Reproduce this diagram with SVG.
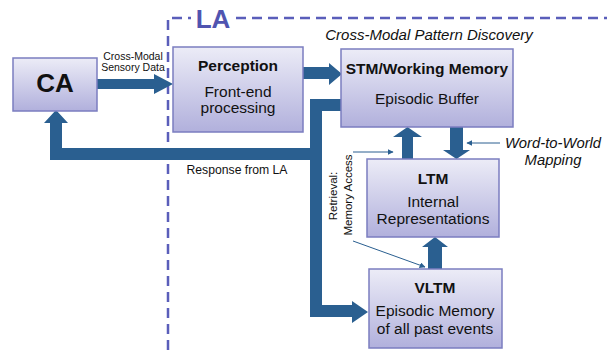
<svg xmlns="http://www.w3.org/2000/svg" width="607" height="354" viewBox="0 0 607 354">
<defs>
<linearGradient id="g" x1="0" y1="0" x2="0" y2="1">
<stop offset="0" stop-color="#ececf7"/>
<stop offset="1" stop-color="#b1b0dc"/>
</linearGradient>
<marker id="th" viewBox="0 0 10 10" refX="9" refY="5" markerWidth="6" markerHeight="6" markerUnits="userSpaceOnUse" orient="auto"><path d="M0,0 L10,5 L0,10 z" fill="#2a5f90"/></marker>
</defs>
<style>
.box{fill:url(#g);stroke:#7b7dc0;stroke-width:1.5}
.t{font-family:"Liberation Sans",Arial,sans-serif;fill:#111;text-anchor:middle}
.b{font-weight:bold}
.big{font-size:15.5px}
.arr{fill:#2a5f90}
.thin{stroke:#2a5f90;stroke-width:1;fill:none}
</style>
<rect width="607" height="354" fill="#fff"/>
<g id="la-boundary">
<path d="M168,350 L168,18 L607,18" fill="none" stroke="#5a5eba" stroke-width="2.5" stroke-dasharray="10 6"/>
<rect x="191" y="6" width="44" height="26" fill="#fff"/>
<text x="213" y="28" font-family="Liberation Sans,Arial,sans-serif" font-weight="bold" font-size="26" fill="#5054b0" text-anchor="middle">LA</text>
</g>
<g id="connectors">
<path class="arr" d="M97,79 L154,79 L154,74 L173,84 L154,94 L154,89 L97,89 z"/>
<path class="arr" d="M303,67 L329,67 L329,63 L342,74 L329,85 L329,79 L303,79 z"/>
<path class="arr" d="M341,99 L310,99 L310,148 L62,148 L62,123 L68,123 L56,110 L44,123 L50,123 L50,160 L310,160 L310,317 L352,317 L352,323 L368,312 L352,301 L352,305 L322,305 L322,111 L341,111 z"/>
<path class="arr" d="M402,159 L402,137 L393,137 L407.5,127 L422,137 L413,137 L413,159 z"/>
<path class="arr" d="M450,127 L463,127 L463,150 L470,150 L456.5,159 L443,150 L450,150 z"/>
<path class="arr" d="M428,269 L428,247 L422,247 L435,237 L448,247 L442,247 L442,269 z"/>
<line class="thin" x1="500" y1="143" x2="467" y2="143" marker-end="url(#th)"/>
<line class="thin" x1="353" y1="152" x2="393" y2="152" marker-end="url(#th)"/>
<line class="thin" x1="353" y1="241" x2="425" y2="267" marker-end="url(#th)"/>
</g>
<g id="CA">
<rect class="box" x="13" y="58" width="84" height="53"/>
<text class="t b" x="55" y="92" font-size="26">CA</text>
</g>
<g id="Perception">
<rect class="box" x="173" y="47" width="130" height="85"/>
<text class="t b big" x="238" y="71">Perception</text>
<text class="t big" x="238" y="97">Front-end</text>
<text class="t big" x="238" y="113">processing</text>
</g>
<g id="STM">
<rect class="box" x="341" y="49" width="172" height="78"/>
<text class="t b big" x="427" y="74">STM/Working Memory</text>
<text class="t big" x="427" y="104">Episodic Buffer</text>
</g>
<g id="LTM">
<rect class="box" x="367" y="159" width="132" height="78"/>
<text class="t b big" x="433" y="184">LTM</text>
<text class="t big" x="433" y="207">Internal</text>
<text class="t big" x="433" y="224">Representations</text>
</g>
<g id="VLTM">
<rect class="box" x="369" y="269" width="133" height="79"/>
<text class="t b big" x="435" y="293">VLTM</text>
<text class="t big" x="435" y="316">Episodic Memory</text>
<text class="t big" x="435" y="334">of all past events</text>
</g>
<g id="labels">
<text class="t" x="133" y="60" font-size="10.5">Cross-Modal</text>
<text class="t" x="133" y="71" font-size="10.5">Sensory Data</text>
<text class="t" x="429" y="40" font-size="15" font-style="italic">Cross-Modal Pattern Discovery</text>
<text class="t" x="553" y="148" font-size="14.8" font-style="italic">Word-to-World</text>
<text class="t" x="553" y="165" font-size="14.8" font-style="italic">Mapping</text>
<text class="t" x="237" y="174" font-size="12.2">Response from LA</text>
<text class="t" transform="translate(337,196) rotate(-90)" font-size="11.5">Retrieval:</text>
<text class="t" transform="translate(352,195) rotate(-90)" font-size="11.5">Memory Access</text>
</g>
</svg>
